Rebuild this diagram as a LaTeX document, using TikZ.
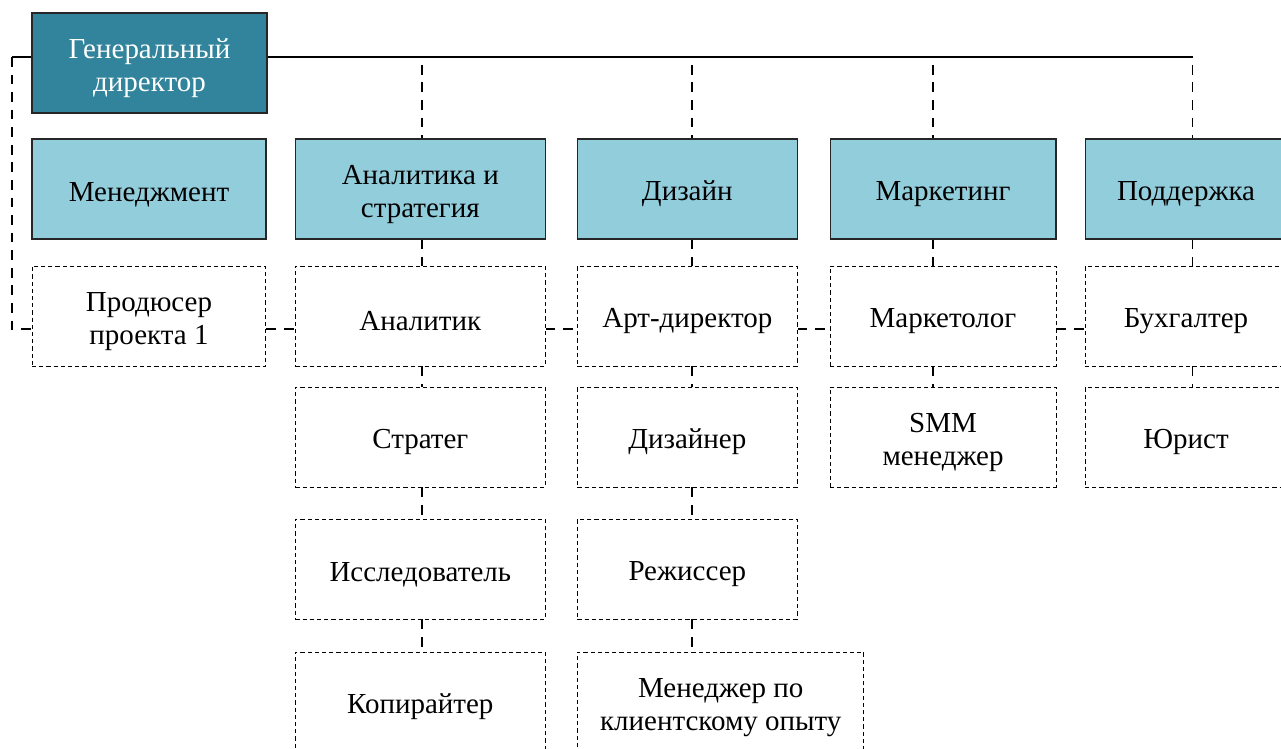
\documentclass[tikz,border=0pt]{standalone}
\usepackage{fontspec}
\setmainfont{Liberation Serif}
\usepackage{xcolor}
\usepackage{tikz}
\definecolor{teal1}{HTML}{31849B}
\definecolor{blue1}{HTML}{92CDDC}

\begin{document}
\begin{tikzpicture}[x=0.02cm, y=-0.02cm, font=\fontsize{16.5}{19}\selectfont]
\tikzstyle{chief} = [rectangle, minimum width=4.7 cm, minimum height=2 cm, text centered, draw=black!85, line width=0.6 pt, fill=teal1, text=white, align=center]
\tikzstyle{dept} = [rectangle, minimum height=2 cm, text height=17 pt, text centered, draw=black!85, line width=0.6 pt, fill=blue1, align=center]
\tikzstyle{role} = [rectangle, minimum height=2 cm, text height=17 pt, text centered, draw=black, line width=0.55 pt, dash pattern=on 2.4 pt off 1.7 pt, align=center]
\tikzstyle{twolines} = [text height=36 pt]
\tikzstyle{link} = [line width=1.1 pt, dash pattern=on 5.5 pt off 4.5 pt]
\tikzstyle{drop} = [link, dash phase=5.5 pt]

\useasboundingbox (0,0) rectangle (1281,748);
\clip (0,0) rectangle (1281,748);

\node (gd) [chief, twolines] at (149.5,63) {Генеральный\\директор};

% departments
\node (mng) [dept, minimum width=4.68 cm] at (149,189) {Менеджмент};
\node (an)  [dept, twolines, minimum width=5.0 cm] at (420.3,189) {Аналитика и\\стратегия};
\node (dz)  [dept, minimum width=4.4 cm]  at (687.3,189) {Дизайн};
\node (mk)  [dept, minimum width=4.52 cm] at (943,189) {Маркетинг};
\node (sp)  [dept, minimum width=4.04 cm] at (1186,189) {Поддержка};

% staff
\node (prod) [role, twolines, minimum width=4.68 cm] at (149,316) {Продюсер\\проекта 1};
\node (ana)  [role, minimum width=5.0 cm]  at (420.3,316) {Аналитик};
\node (str)  [role, minimum width=5.0 cm]  at (420.3,437) {Стратег};
\node (res)  [role, minimum width=5.0 cm]  at (420.3,569) {Исследователь};
\node (copy) [role, minimum width=5.0 cm]  at (420.3,702) {Копирайтер};
\node (art)  [role, minimum width=4.4 cm]  at (687.3,316) {Арт-директор};
\node (des)  [role, minimum width=4.4 cm]  at (687.3,437) {Дизайнер};
\node (dir)  [role, minimum width=4.4 cm]  at (687.3,569) {Режиссер};
\node (cx)   [role, twolines, minimum width=5.73 cm] at (720.7,702) {Менеджер по\\клиентскому опыту};
\node (mkt)  [role, minimum width=4.52 cm] at (943,316) {Маркетолог};
\node (smm)  [role, twolines, minimum width=4.52 cm] at (943,437) {SMM\\менеджер};
\node (acc)  [role, minimum width=4.04 cm] at (1186,316) {Бухгалтер};
\node (law)  [role, minimum width=4.04 cm] at (1186,437) {Юрист};

\coordinate (l)  at (12,57);
\coordinate (d2) at (421.7,57);
\coordinate (d3) at (691.7,57);
\coordinate (d4) at (933,57);
\coordinate (d5) at (1192.5,57);
\coordinate (mid) at (0,329);

\draw [line width=1.3 pt] (gd.east |- d2) -- (d5);
\draw [line width=1.3 pt] (gd.west |- l) -- (l);
\draw [link] (l) |- (prod.west |- mid);

\draw [drop] (d2) -- (an.north -| d2);
\draw [drop] (d3) -- (dz.north -| d3);
\draw [drop] (d4) -- (mk.north -| d4);
\draw [drop] (d5) -- (sp.north -| d5);

\draw [link] (an.south -| d2) -- (ana.north -| d2);
\draw [link] (ana.south -| d2) -- (str.north -| d2);
\draw [link] (str.south -| d2) -- (res.north -| d2);
\draw [link] (res.south -| d2) -- (copy.north -| d2);
\draw [link] (dz.south -| d3) -- (art.north -| d3);
\draw [link] (art.south -| d3) -- (des.north -| d3);
\draw [link] (des.south -| d3) -- (dir.north -| d3);
\draw [link] (dir.south -| d3) -- (cx.north -| d3);
\draw [link] (mk.south -| d4) -- (mkt.north -| d4);
\draw [link] (mkt.south -| d4) -- (smm.north -| d4);
\draw [link] (sp.south -| d5) -- (acc.north -| d5);
\draw [link] (acc.south -| d5) -- (law.north -| d5);

\draw [link] (prod.east |- mid) -- (ana.west |- mid);
\draw [link] (ana.east |- mid) -- (art.west |- mid);
\draw [link] (art.east |- mid) -- (mkt.west |- mid);
\draw [link] (mkt.east |- mid) -- (acc.west |- mid);

\end{tikzpicture}
\end{document}
